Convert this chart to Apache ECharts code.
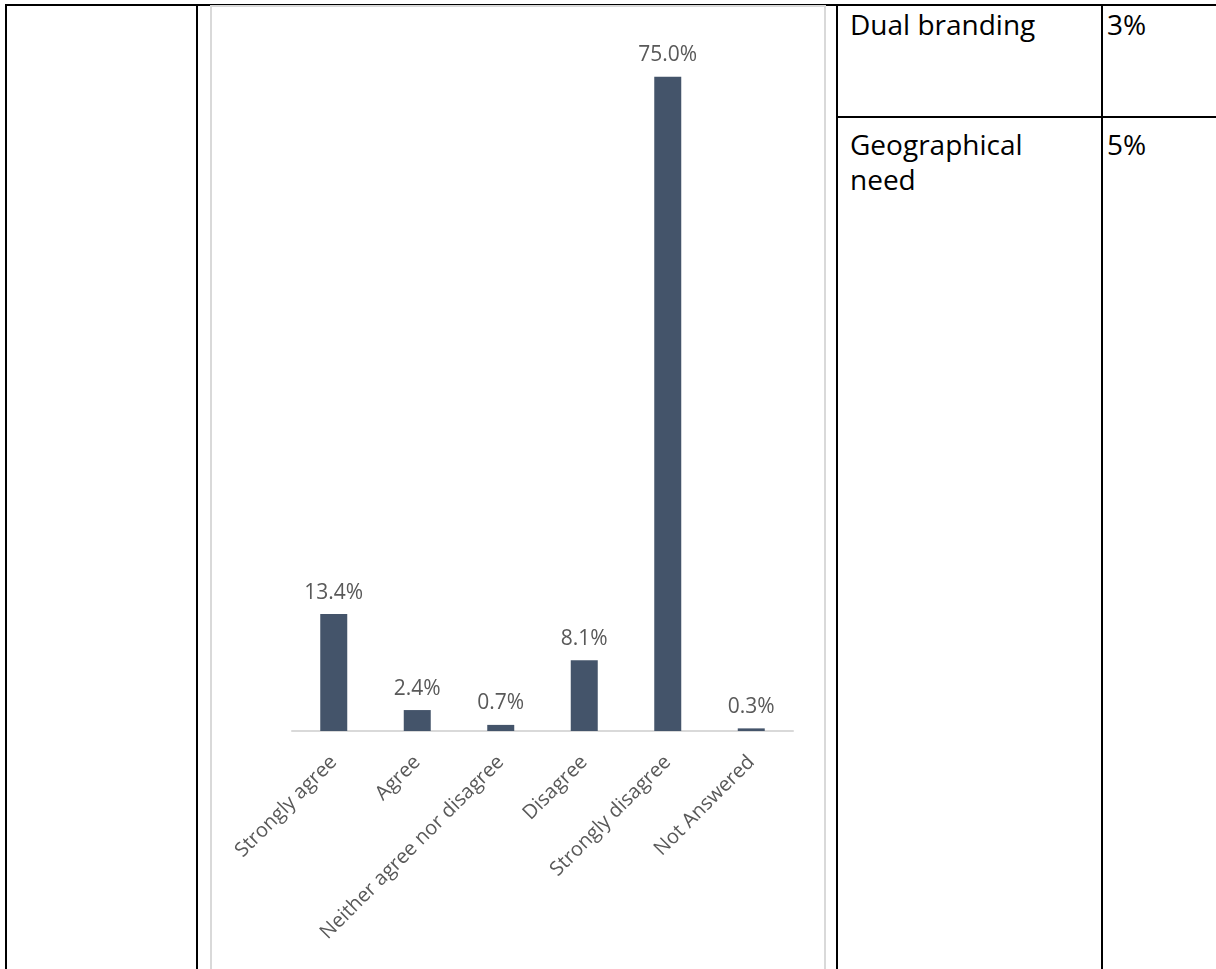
<!DOCTYPE html>
<html>
<head>
<meta charset="utf-8">
<script src="https://cdn.jsdelivr.net/npm/echarts@6/dist/echarts.min.js"></script>
<style>
	body {
		margin: 0;
		width: 1216px;
		height: 969px;
		background: #fff;
		position: relative;
		overflow: hidden;
		font-family: "Open Sans", sans-serif;
	}
	.line {
		position: absolute;
		background: #000;
	}
	.chart_box {
		position: absolute;
		left: 210px;
		top: 5px;
		width: 612px;
		height: 962px;
		border: 2px solid #d9d9d9;
	}
	.cell_text {
		position: absolute;
		font-size: 28px;
		line-height: 35px;
		color: #000;
	}
	#chart {
		position: absolute;
		left: 0;
		top: 0;
		width: 1216px;
		height: 969px;
	}
</style>
</head>
<body>
	<!-- table lines -->
	<div class="line" style="left:5px;top:4px;width:1211px;height:2px"></div>
	<div class="line" style="left:5px;top:4px;width:2px;height:965px"></div>
	<div class="line" style="left:196px;top:4px;width:2px;height:965px"></div>
	<div class="line" style="left:836px;top:4px;width:2px;height:965px"></div>
	<div class="line" style="left:1101px;top:4px;width:2px;height:965px"></div>
	<div class="line" style="left:836px;top:116px;width:380px;height:2px"></div>
	<div class="chart_box"></div>

	<div class="cell_text" style="left:850px;top:7px">Dual branding</div>
	<div class="cell_text" style="left:1107px;top:7px">3%</div>
	<div class="cell_text" style="left:850px;top:127px">Geographical<br>need</div>
	<div class="cell_text" style="left:1107px;top:127px">5%</div>

	<div id="chart"></div>

<script>
	// 数据
	var categories = ['Strongly agree', 'Agree', 'Neither agree nor disagree', 'Disagree', 'Strongly disagree', 'Not Answered']
	var percentValues = [13.4, 2.4, 0.7, 8.1, 75.0, 0.3]

	var chart = echarts.init(document.getElementById('chart'))
	var option = {
		animation: false,
		grid: {
			left: 292,
			right: 423,
			top: 33,
			bottom: 238
		},
		xAxis: {
			type: 'category',
			data: categories,
			axisLine: {
				lineStyle: {
					color: '#d9d9d9',
					width: 2
				}
			},
			axisTick: {
				show: false
			},
			axisLabel: {
				interval: 0,
				rotate: 45,
				margin: 28,
				color: '#595959',
				fontSize: 20,
				fontFamily: 'Open Sans'
			}
		},
		yAxis: {
			type: 'value',
			min: 0,
			max: 80,
			show: false
		},
		series: [{
			type: 'bar',
			data: percentValues,
			barWidth: 27,
			itemStyle: {
				color: '#44546A'
			},
			label: {
				show: true,
				position: 'top',
				distance: 11,
				color: '#595959',
				fontSize: 21,
				fontFamily: 'Open Sans',
				formatter: function(p) {
					return p.value.toFixed(1) + '%'
				}
			}
		}]
	}
	chart.setOption(option)
</script>
</body>
</html>
